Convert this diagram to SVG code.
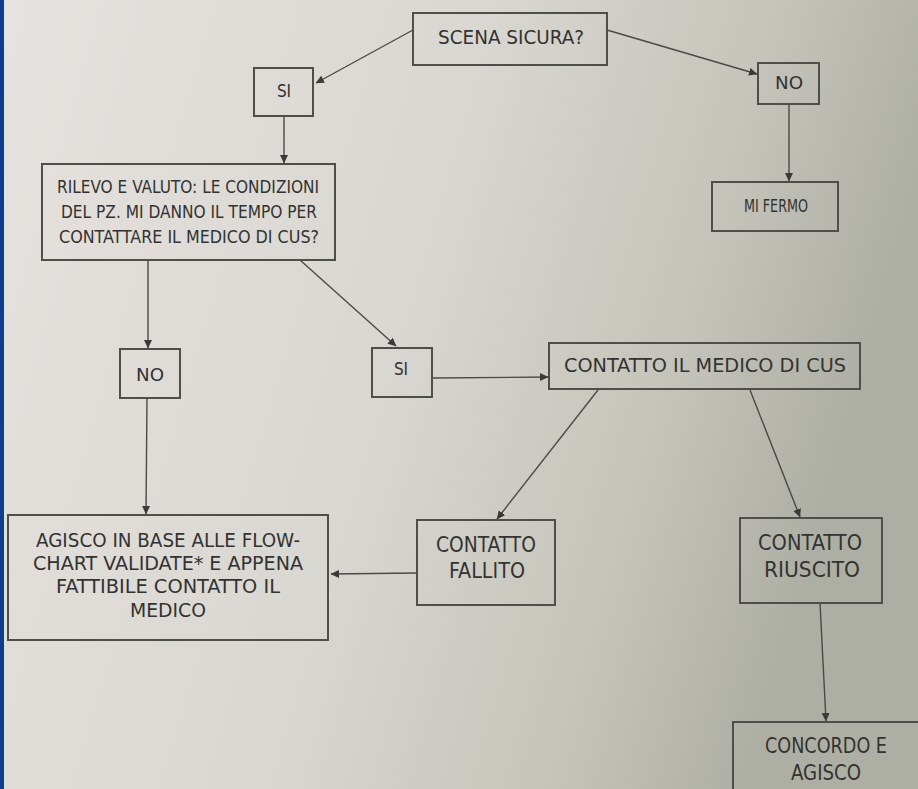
<svg xmlns="http://www.w3.org/2000/svg" width="918" height="789" viewBox="0 0 918 789">
<defs>
<linearGradient id="paper" x1="0" y1="0" x2="1" y2="0.25">
<stop offset="0" stop-color="#e6e2df"/>
<stop offset="0.5" stop-color="#d9d7d1"/>
<stop offset="0.8" stop-color="#c4c4ba"/>
<stop offset="1" stop-color="#aeafa4"/>
</linearGradient>
<marker id="arr" markerWidth="9" markerHeight="9" refX="8" refY="4.5" orient="auto" markerUnits="userSpaceOnUse">
<path d="M0,0.5 L8.5,4.5 L0,8.5 Z" fill="#3a3a38"/>
</marker>
<style>
.box{fill:none;stroke:#4e4e4b;stroke-width:2}
.t{font-family:"DejaVu Sans Condensed","DejaVu Sans",sans-serif;fill:#333331;text-anchor:middle}
.c{fill:none;stroke:#4a4a47;stroke-width:1.4;marker-end:url(#arr)}
</style>
</defs>
<rect x="0" y="0" width="918" height="789" fill="url(#paper)"/>
<rect x="0" y="0" width="4" height="789" fill="#0b3f8e"/>

<g id="connectors">
<line class="c" x1="413" y1="30" x2="316" y2="83"/>
<line class="c" x1="607" y1="30" x2="757" y2="74"/>
<line class="c" x1="284" y1="116" x2="284" y2="163"/>
<line class="c" x1="789" y1="104" x2="789" y2="181"/>
<line class="c" x1="148" y1="260" x2="148" y2="348"/>
<line class="c" x1="300" y1="260" x2="396" y2="346"/>
<line class="c" x1="432" y1="378" x2="548" y2="377"/>
<line class="c" x1="598" y1="390" x2="497" y2="519"/>
<line class="c" x1="750" y1="390" x2="800" y2="517"/>
<line class="c" x1="147" y1="398" x2="146" y2="514"/>
<line class="c" x1="417" y1="573" x2="331" y2="574"/>
<line class="c" x1="820" y1="603" x2="826" y2="721"/>
</g>

<g id="scena">
<rect class="box" x="413" y="13" width="194" height="52"/>
<text class="t" x="511" y="44" font-size="19" textLength="146" lengthAdjust="spacingAndGlyphs">SCENA SICURA?</text>
</g>
<g id="si1">
<rect class="box" x="254" y="68" width="59" height="48"/>
<text class="t" x="284" y="97" font-size="17">SI</text>
</g>
<g id="no1">
<rect class="box" x="758" y="63" width="61" height="41"/>
<text class="t" x="789" y="89" font-size="17" textLength="28" lengthAdjust="spacingAndGlyphs">NO</text>
</g>
<g id="rilevo">
<rect class="box" x="42" y="164" width="293" height="96"/>
<text class="t" x="188" y="193" font-size="17" textLength="262" lengthAdjust="spacingAndGlyphs">RILEVO E VALUTO: LE CONDIZIONI</text>
<text class="t" x="189" y="218" font-size="17" textLength="256" lengthAdjust="spacingAndGlyphs">DEL PZ. MI DANNO IL TEMPO PER</text>
<text class="t" x="189" y="243" font-size="17" textLength="260" lengthAdjust="spacingAndGlyphs">CONTATTARE IL MEDICO DI CUS?</text>
</g>
<g id="mifermo">
<rect class="box" x="712" y="182" width="126" height="49"/>
<text class="t" x="776" y="212" font-size="17" textLength="64" lengthAdjust="spacingAndGlyphs">MI FERMO</text>
</g>
<g id="no2">
<rect class="box" x="120" y="349" width="60" height="49"/>
<text class="t" x="150" y="381" font-size="17" textLength="28" lengthAdjust="spacingAndGlyphs">NO</text>
</g>
<g id="si2">
<rect class="box" x="372" y="348" width="60" height="49"/>
<text class="t" x="401" y="375" font-size="17">SI</text>
</g>
<g id="contatto">
<rect class="box" x="549" y="343" width="311" height="46"/>
<text class="t" x="705" y="372" font-size="20" textLength="282" lengthAdjust="spacingAndGlyphs">CONTATTO IL MEDICO DI CUS</text>
</g>
<g id="agisco">
<rect class="box" x="8" y="515" width="320" height="125"/>
<text class="t" x="168" y="547" font-size="19" textLength="264" lengthAdjust="spacingAndGlyphs">AGISCO IN BASE ALLE FLOW-</text>
<text class="t" x="168" y="570" font-size="19" textLength="270" lengthAdjust="spacingAndGlyphs">CHART  VALIDATE* E APPENA</text>
<text class="t" x="168" y="593" font-size="19" textLength="224" lengthAdjust="spacingAndGlyphs">FATTIBILE CONTATTO IL</text>
<text class="t" x="168" y="617" font-size="19" textLength="76" lengthAdjust="spacingAndGlyphs">MEDICO</text>
</g>
<g id="fallito">
<rect class="box" x="417" y="520" width="138" height="85"/>
<text class="t" x="486" y="552" font-size="21" textLength="100" lengthAdjust="spacingAndGlyphs">CONTATTO</text>
<text class="t" x="487" y="578" font-size="21" textLength="76" lengthAdjust="spacingAndGlyphs">FALLITO</text>
</g>
<g id="riuscito">
<rect class="box" x="740" y="518" width="142" height="85"/>
<text class="t" x="810" y="550" font-size="21" textLength="104" lengthAdjust="spacingAndGlyphs">CONTATTO</text>
<text class="t" x="812" y="577" font-size="21" textLength="96" lengthAdjust="spacingAndGlyphs">RIUSCITO</text>
</g>
<g id="concordo">
<rect class="box" x="733" y="722" width="200" height="80"/>
<text class="t" x="826" y="753" font-size="21" textLength="122" lengthAdjust="spacingAndGlyphs">CONCORDO E</text>
<text class="t" x="826" y="780" font-size="21" textLength="70" lengthAdjust="spacingAndGlyphs">AGISCO</text>
</g>
</svg>
